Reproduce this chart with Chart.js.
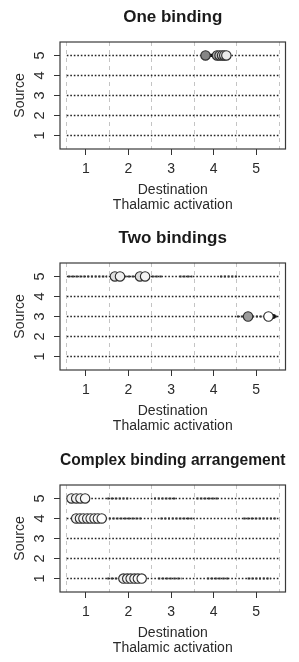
<!DOCTYPE html>
<html>
<head>
<meta charset="utf-8">
<script src="https://cdn.jsdelivr.net/npm/chart.js@4.4.1/dist/chart.umd.min.js"></script>
<style>
  html, body { margin: 0; padding: 0; background: #fff; }
  body { width: 299px; height: 662px; position: relative; overflow: hidden; }
  .panel { position: absolute; left: 0; width: 299px; height: 219px; }
</style>
</head>
<body>
<div class="panel" style="top:0px"><canvas id="c1" width="299" height="219"></canvas></div>
<div class="panel" style="top:221px"><canvas id="c2" width="299" height="219"></canvas></div>
<div class="panel" style="top:443px"><canvas id="c3" width="299" height="219"></canvas></div>
<script>
// ---------- shared axis data ----------
const rows = [1, 2, 3, 4, 5];
const xTicks = [1, 2, 3, 4, 5];
const yTicks = [1, 2, 3, 4, 5];
const gridAt = [0.55, 1.55, 2.55, 3.55, 4.55, 5.55];
const rowLineFrom = 0.55;
const rowLineTo = 5.55;
const xTitle = ['Destination', 'Thalamic activation'];
const yTitle = 'Source';

// ---------- panel 1: One binding ----------
const p1Title = 'One binding';
const p1X = [3.81, 4.08, 4.14, 4.20, 4.25, 4.30];
const p1Y = [5, 5, 5, 5, 5, 5];
const p1Fill = ['#858585', '#a9a9a9', '#bcbcbc', '#cdcdcd', '#dcdcdc', '#ececec'];
const p1Heavy = [];                        // [row, from, to]
const p1Solid = [[5, 3.81, 4.12]];
const p1DotX = [];
const p1DotY = [];

// ---------- panel 2: Two bindings ----------
const p2Title = 'Two bindings';
const p2X = [1.68, 1.80, 2.27, 2.39, 4.81, 5.29];
const p2Y = [5, 5, 5, 5, 3, 3];
const p2Fill = ['#dedede', '#f0f0f0', '#dcdcdc', '#f4f4f4', '#9c9c9c', '#ffffff'];
const p2Heavy = [[5, 0.58, 1.5], [5, 1.9, 2.2], [5, 2.55, 2.8], [5, 3.2, 3.5], [5, 4.15, 4.55], [3, 4.55, 5.5]];
const p2Solid = [];
const p2DotX = [5.41];
const p2DotY = [3];

// ---------- panel 3: Complex binding arrangement ----------
const p3Title = 'Complex binding arrangement';
const p3X = [0.66, 0.77, 0.87, 0.98,
             0.77, 0.86, 0.94, 1.03, 1.11, 1.20, 1.28, 1.37,
             1.88, 1.97, 2.05, 2.14, 2.22, 2.31];
const p3Y = [5, 5, 5, 5,
             4, 4, 4, 4, 4, 4, 4, 4,
             1, 1, 1, 1, 1, 1];
const p3Fill = ['#f2f2f2', '#eeeeee', '#f4f4f4', '#f8f8f8',
                '#f0f0f0', '#f2f2f2', '#f4f4f4', '#f4f4f4', '#f6f6f6', '#f8f8f8', '#fafafa', '#ffffff',
                '#eeeeee', '#f0f0f0', '#f2f2f2', '#f4f4f4', '#f8f8f8', '#ffffff'];
const p3Heavy = [[5, 1.5, 2.0], [5, 2.6, 3.1], [5, 3.6, 4.1],
                 [4, 1.45, 2.3], [4, 2.75, 3.5], [4, 4.7, 5.5],
                 [1, 1.5, 1.85], [1, 2.7, 3.25], [1, 3.85, 4.35], [1, 4.8, 5.35]];
const p3Solid = [];
const p3DotX = [];
const p3DotY = [];

// ---------- drawing ----------
const FONT = "'Liberation Sans', Arial, Helvetica, sans-serif";
const INK = '#2a2a2a';

const boxPlugin = {
  id: 'plotBox',
  afterDraw(chart) {
    const a = chart.chartArea, ctx = chart.ctx;
    ctx.save();
    ctx.strokeStyle = '#3a3a3a';
    ctx.lineWidth = 1.2;
    ctx.strokeRect(a.left, a.top, a.right - a.left, a.bottom - a.top);
    ctx.restore();
  }
};

function makePanel(id, title, px, py, fills, heavy, solid, dotX, dotY) {
  const datasets = [];
  datasets.push({
    type: 'scatter',
    data: px.map((x, i) => ({ x: x, y: py[i] })),
    pointRadius: 4.7,
    pointBackgroundColor: fills,
    pointBorderColor: '#2e2e2e',
    pointBorderWidth: 1.1,
    showLine: false,
    order: 0
  });
  if (dotX.length) {
    datasets.push({
      type: 'scatter',
      data: dotX.map((x, i) => ({ x: x, y: dotY[i] })),
      pointRadius: 2.4,
      pointBackgroundColor: '#111',
      pointBorderColor: '#111',
      pointBorderWidth: 0,
      showLine: false,
      order: 1
    });
  }
  solid.forEach(s => datasets.push({
    type: 'line',
    data: [{ x: s[1], y: s[0] }, { x: s[2], y: s[0] }],
    borderColor: '#111', borderWidth: 3.2, pointRadius: 0, order: 2
  }));
  heavy.forEach(s => datasets.push({
    type: 'line',
    data: [{ x: s[1], y: s[0] }, { x: s[2], y: s[0] }],
    borderColor: '#333', borderWidth: 1.9, borderDash: [2, 1.8],
    pointRadius: 0, order: 3
  }));
  rows.forEach(r => datasets.push({
    type: 'line',
    data: [{ x: rowLineFrom, y: r }, { x: rowLineTo, y: r }],
    borderColor: '#222', borderWidth: 1.6, borderDash: [1.6, 1.9],
    pointRadius: 0, order: 4
  }));

  new Chart(document.getElementById(id), {
    type: 'scatter',
    data: { datasets: datasets },
    plugins: [boxPlugin],
    options: {
      responsive: false,
      animation: false,
      events: [],
      layout: { padding: { left: 0, right: 13.5, top: 0, bottom: 0 } },
      plugins: {
        legend: { display: false },
        tooltip: { enabled: false },
        title: {
          display: true,
          text: title,
          fullSize: false,
          color: '#1a1a1a',
          font: { family: FONT, size: 17, weight: 'bold', lineHeight: 1.2 },
          padding: { top: 6.8, bottom: 14.8 }
        }
      },
      scales: {
        x: {
          type: 'linear',
          position: 'bottom',
          min: 0.39, max: 5.69,
          afterBuildTicks: s => { s.ticks = xTicks.map(v => ({ value: v })); },
          afterFit: s => { s.height = 70; },
          grid: { drawOnChartArea: false, drawTicks: true, tickLength: 6, color: '#333', lineWidth: 1 },
          border: { display: false },
          ticks: { color: INK, font: { family: FONT, size: 14 }, padding: 6, maxRotation: 0, autoSkip: false },
          title: { display: true, text: xTitle, color: INK,
                   font: { family: FONT, size: 14, lineHeight: '15px' },
                   padding: { top: 4, bottom: 6.5 } }
        },
        xg: {
          type: 'linear',
          position: 'bottom',
          min: 0.39, max: 5.69,
          afterBuildTicks: s => { s.ticks = gridAt.map(v => ({ value: v })); },
          afterFit: s => { s.height = 0; },
          grid: { drawOnChartArea: true, drawTicks: false, color: '#c4c4c4', lineWidth: 1 },
          border: { display: false, dash: [4, 4] },
          ticks: { display: false }
        },
        y: {
          type: 'linear',
          position: 'left',
          min: 0.33, max: 5.67,
          afterBuildTicks: s => { s.ticks = yTicks.map(v => ({ value: v })); },
          afterFit: s => { s.width = 60; },
          grid: { drawOnChartArea: false, drawTicks: true, tickLength: 6, color: '#333', lineWidth: 1 },
          border: { display: false },
          ticks: { color: INK, font: { family: FONT, size: 14.5 }, padding: 10,
                   minRotation: 90, maxRotation: 90, crossAlign: 'center', autoSkip: false },
          title: { display: true, text: yTitle, color: INK,
                   font: { family: FONT, size: 14, lineHeight: 1.2 },
                   padding: { top: 11.6, bottom: 0 } }
        }
      }
    }
  });
}

makePanel('c1', p1Title, p1X, p1Y, p1Fill, p1Heavy, p1Solid, p1DotX, p1DotY);
makePanel('c2', p2Title, p2X, p2Y, p2Fill, p2Heavy, p2Solid, p2DotX, p2DotY);
makePanel('c3', p3Title, p3X, p3Y, p3Fill, p3Heavy, p3Solid, p3DotX, p3DotY);
</script>
</body>
</html>
